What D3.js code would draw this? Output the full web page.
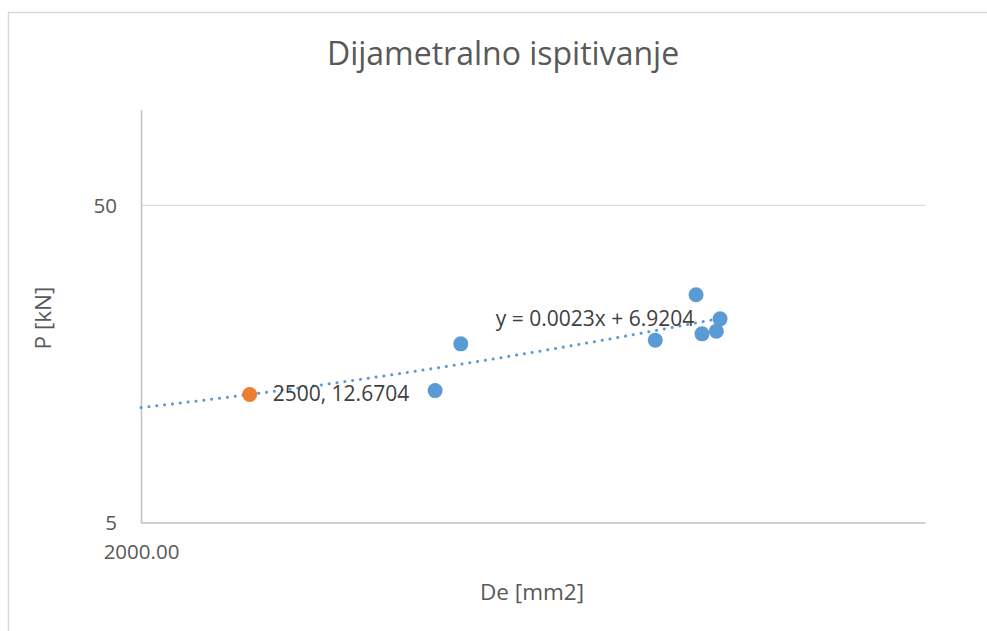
<!DOCTYPE html>
<html>
<head>
<meta charset="utf-8">
<script src="https://cdn.jsdelivr.net/npm/d3@7"></script>
<style>
  html, body { margin: 0; padding: 0; background: #fff; }
  svg { display: block; font-family: "Open Sans", "Noto Sans", sans-serif; }
</style>
</head>
<body>
<svg id="chart" width="987" height="631"></svg>
<script>
// ---- data ----
const title = "Dijametralno ispitivanje";
const xTitle = "De [mm2]";
const yTitle = "P [kN]";
const seriesX = [3658, 3856, 5748, 6250, 6327, 6516, 6566];
const seriesY = [13.03, 18.30, 18.80, 26.13, 19.68, 20.07, 21.94];
const highlightX = [2500];
const highlightY = [12.6704];
const highlightLabels = ["2500, 12.6704"];
const trendSlope = 0.0023;
const trendIntercept = 6.9204;
const trendLabel = "y = 0.0023x + 6.9204";
const xDomain = [2000, 10000];
const yDomain = [5, 100];
const yTicks = [5, 50];
const xTicks = [2000];

// ---- layout ----
const svg = d3.select("#chart");
const L = 141, R = 925, T = 110, B = 522.5;
const textColor = "#595959";

svg.append("rect").attr("x", 8.5).attr("y", 12.5).attr("width", 1000).attr("height", 700)
  .attr("fill", "none").attr("stroke", "#d9d9d9").attr("stroke-width", 1.5);

const x = d3.scaleLog().domain(xDomain).range([L, R]);
const y = d3.scaleLog().domain(yDomain).range([B, T]);

// gridlines
svg.append("g").selectAll("line").data(yTicks.filter(d => d !== yDomain[0])).join("line")
  .attr("x1", L).attr("x2", R).attr("y1", d => y(d)).attr("y2", d => y(d))
  .attr("stroke", "#d9d9d9").attr("stroke-width", 1.3);

// axes
const yAxis = d3.axisLeft(y).tickValues(yTicks).tickSize(0).tickPadding(24).tickFormat(d3.format("d"));
const gy = svg.append("g").attr("transform", `translate(${L},0)`).call(yAxis);
gy.select(".domain").attr("stroke", "#bfbfbf").attr("stroke-width", 1.5);
gy.selectAll("text").attr("fill", textColor).attr("font-size", 20.5).attr("font-family", "Open Sans");

const xAxis = d3.axisBottom(x).tickValues(xTicks).tickSize(0).tickPadding(22).tickFormat(d3.format(".2f"));
const gx = svg.append("g").attr("transform", `translate(0,${B})`).call(xAxis);
gx.select(".domain").attr("stroke", "#bfbfbf").attr("stroke-width", 1.5);
gx.selectAll("text").attr("fill", textColor).attr("font-size", 20.5).attr("font-family", "Open Sans");

// trendline
const xMax = d3.max(seriesX);
const trendPts = d3.range(0, 201).map(i => {
  const lx = Math.log10(xDomain[0]) + (Math.log10(xMax) - Math.log10(xDomain[0])) * i / 200;
  const xv = Math.pow(10, lx);
  return [xv, trendSlope * xv + trendIntercept];
});
svg.append("path").datum(trendPts)
  .attr("d", d3.line().x(d => x(d[0])).y(d => y(d[1])))
  .attr("fill", "none").attr("stroke", "#5b9bd5").attr("stroke-width", 3)
  .attr("stroke-linecap", "round").attr("stroke-dasharray", "0.1,7.8");

// points
svg.append("g").selectAll("circle").data(seriesX.map((d, i) => [d, seriesY[i]])).join("circle")
  .attr("cx", d => x(d[0])).attr("cy", d => y(d[1])).attr("r", 7.5).attr("fill", "#5b9bd5");

svg.append("g").selectAll("circle").data(highlightX.map((d, i) => [d, highlightY[i]])).join("circle")
  .attr("cx", d => x(d[0])).attr("cy", d => y(d[1])).attr("r", 7.5).attr("fill", "#ed7d31");

// labels
svg.append("g").selectAll("text").data(highlightX.map((d, i) => [d, highlightY[i], highlightLabels[i]])).join("text")
  .attr("x", d => x(d[0]) + 23).attr("y", d => y(d[1]) + 1)
  .attr("dominant-baseline", "middle").attr("fill", "#404040").attr("font-size", 21)
  .text(d => d[2]);

svg.append("text").attr("x", 595).attr("y", 320).attr("text-anchor", "middle")
  .attr("dominant-baseline", "middle").attr("fill", "#404040").attr("font-size", 21)
  .text(trendLabel);

// titles
svg.append("text").attr("x", 503).attr("y", 56).attr("text-anchor", "middle")
  .attr("dominant-baseline", "middle").attr("fill", textColor).attr("font-size", 32)
  .text(title);
svg.append("text").attr("x", 532).attr("y", 594).attr("text-anchor", "middle")
  .attr("dominant-baseline", "middle").attr("fill", textColor).attr("font-size", 22.5)
  .text(xTitle);
svg.append("text").attr("transform", "translate(45,318) rotate(-90)").attr("text-anchor", "middle")
  .attr("dominant-baseline", "middle").attr("fill", textColor).attr("font-size", 22.5)
  .text(yTitle);
</script>
</body>
</html>
